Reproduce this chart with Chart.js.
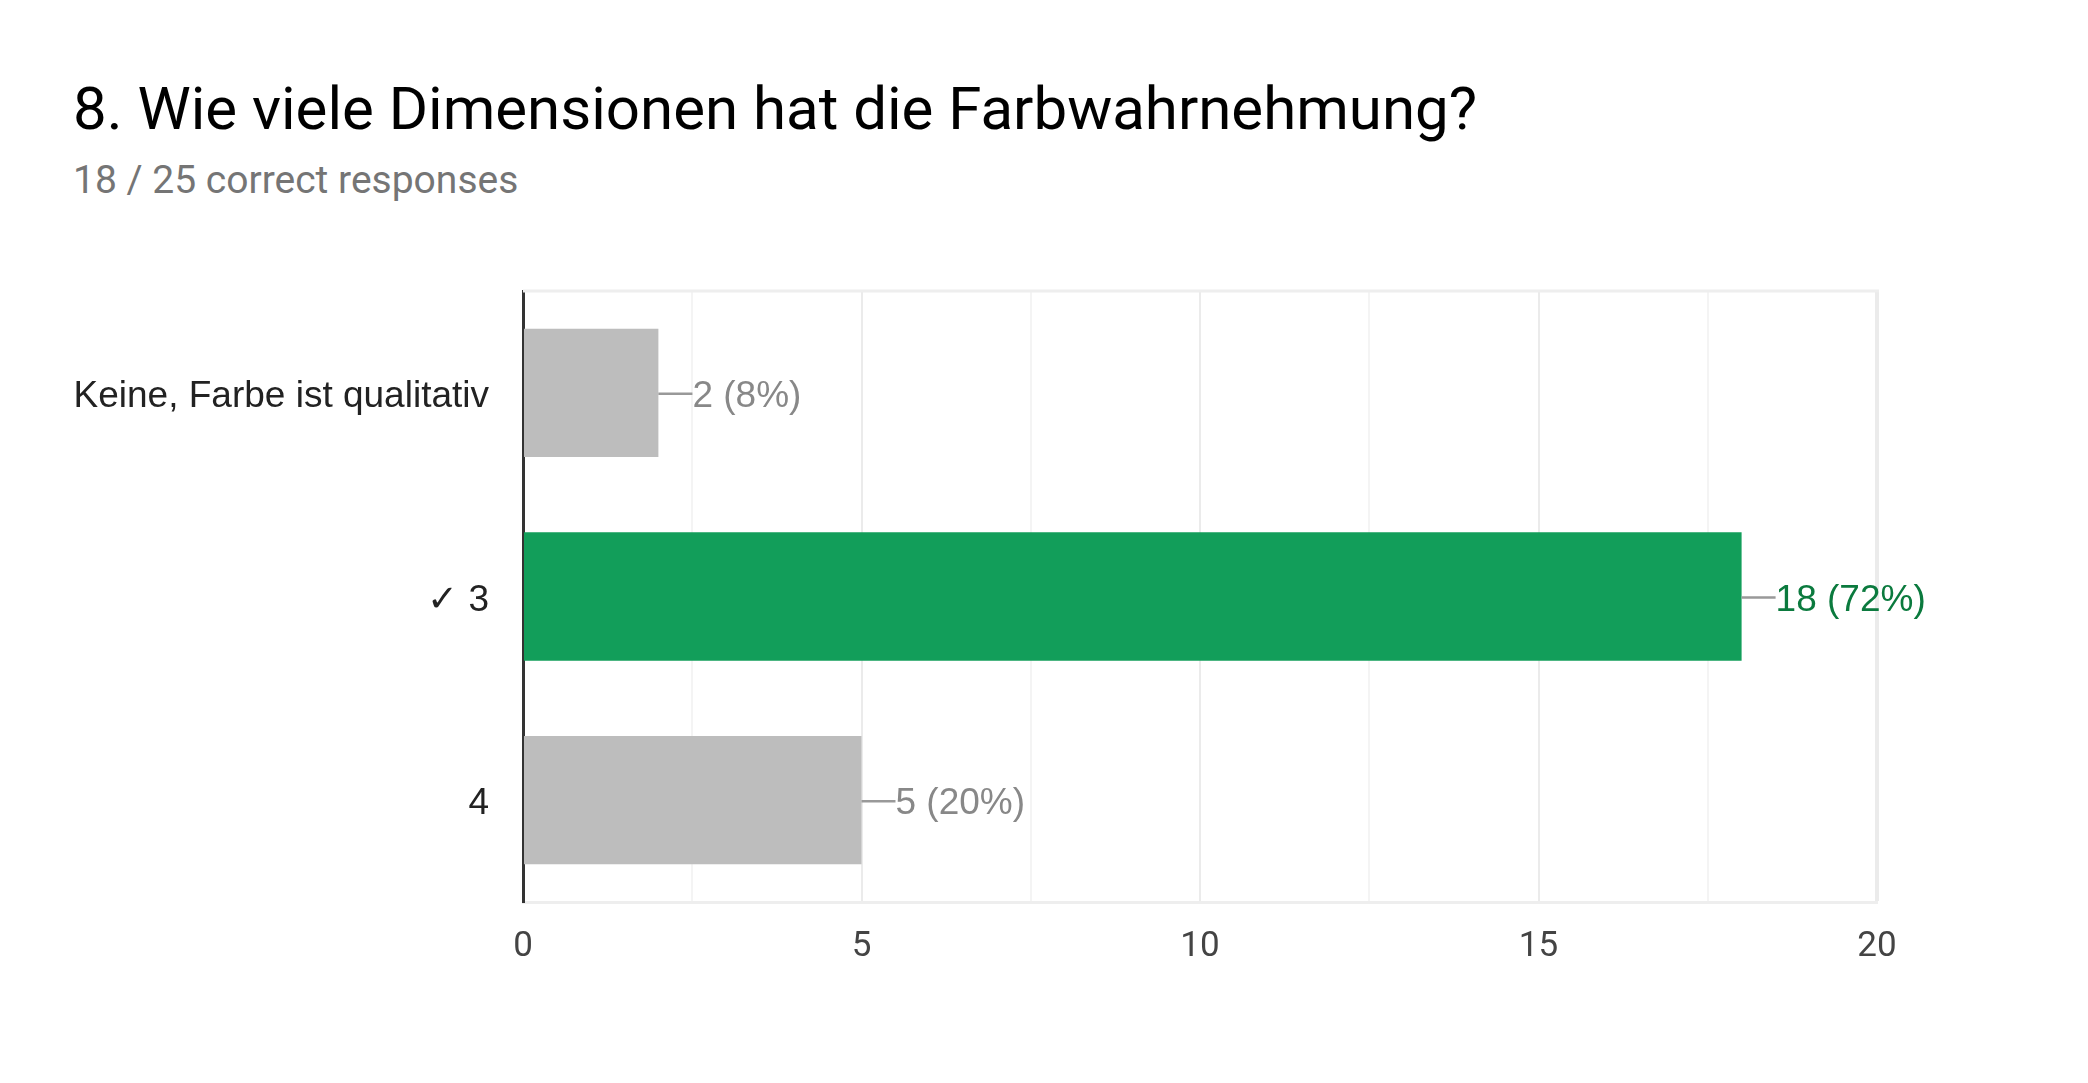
<!DOCTYPE html>
<html>
<head>
<meta charset="utf-8">
<script src="https://cdn.jsdelivr.net/npm/chart.js@4.4.1/dist/chart.umd.min.js"></script>
<style>
  html, body { margin: 0; padding: 0; background: #fff; }
  #wrap { position: relative; width: 2088px; height: 1083px; overflow: hidden; }
  #title { position: absolute; left: 73px; top: 79px; font-family: Roboto, sans-serif; font-size: 60px; color: #000; white-space: nowrap; line-height: 1; }
  #subtitle { position: absolute; left: 73px; top: 161px; font-family: Roboto, sans-serif; font-size: 39px; color: #757575; white-space: nowrap; line-height: 1; }
  #chartBox { position: absolute; left: 0; top: 0; width: 2088px; height: 1083px; }
</style>
</head>
<body>
<div id="wrap">
  <div id="title">8. Wie viele Dimensionen hat die Farbwahrnehmung?</div>
  <div id="subtitle">18 / 25 correct responses</div>
  <div id="chartBox"><canvas id="chart"></canvas></div>
</div>
<script>
// Daten
const categories = ['Keine, Farbe ist qualitativ', '✓ 3', '4'];
const counts = [2, 18, 5];
const percents = [8, 72, 20];
const correct = [false, true, false];
const xTicks = [0, 5, 10, 15, 20];

const barColors = correct.map(c => c ? '#129e5a' : '#bdbdbd');
const labelColors = correct.map(c => c ? '#0b7a3e' : '#888888');

// Rahmen oben zeichnen
const frame = {
    id: 'frame',
    beforeDatasetsDraw(chart) {
        const { ctx, chartArea } = chart;
        ctx.save();
        ctx.strokeStyle = '#eeeeee';
        ctx.lineWidth = 3;
        ctx.beginPath();
        ctx.moveTo(chartArea.left, chartArea.top);
        ctx.lineTo(chartArea.right + 2, chartArea.top);
        ctx.stroke();
        ctx.restore();
    }
};

// Werte rechts neben den Balken
const valueLabels = {
    id: 'valueLabels',
    afterDatasetsDraw(chart) {
        const { ctx } = chart;
        const meta = chart.getDatasetMeta(0);
        ctx.save();
        ctx.font = '37px "Liberation Sans", Arial, sans-serif';
        ctx.textBaseline = 'middle';
        ctx.textAlign = 'left';
        meta.data.forEach((bar, i) => {
            ctx.strokeStyle = '#999999';
            ctx.lineWidth = 2.5;
            ctx.beginPath();
            ctx.moveTo(bar.x, bar.y + 1);
            ctx.lineTo(bar.x + 34, bar.y + 1);
            ctx.stroke();
            ctx.fillStyle = labelColors[i];
            ctx.fillText(`${counts[i]} (${percents[i]}%)`, bar.x + 34, bar.y + 4);
        });
        ctx.restore();
    }
};

const ctx = document.getElementById('chart').getContext('2d');
new Chart(ctx, {
    type: 'bar',
    data: {
        labels: categories,
        datasets: [{
            data: counts,
            backgroundColor: barColors,
            borderWidth: 0,
            categoryPercentage: 1,
            barPercentage: 0.63
        }]
    },
    plugins: [frame, valueLabels],
    options: {
        indexAxis: 'y',
        responsive: true,
        maintainAspectRatio: false,
        animation: false,
        devicePixelRatio: 1,
        layout: { padding: { left: 0, top: 291, right: 211, bottom: 0 } },
        plugins: {
            legend: { display: false },
            tooltip: { enabled: false }
        },
        scales: {
            x: {
                min: 0,
                max: 20,
                afterBuildTicks(scale) {
                    const t = [];
                    for (let v = 0; v <= 20; v += 2.5) t.push({ value: v });
                    scale.ticks = t;
                },
                afterFit(scale) { scale.height = 181; },
                grid: {
                    drawTicks: false,
                    color: c => {
                        if (c.index === 0) return 'rgba(0,0,0,0)';
                        if (c.tick && c.tick.value === 20) return '#ebebeb';
                        return c.tick && c.tick.value % 5 === 0 ? '#ebebeb' : '#f4f4f4';
                    },
                    lineWidth: c => (c.tick && c.tick.value === 20) ? 4 : 2
                },
                border: { display: true, color: '#eeeeee', width: 3 },
                ticks: {
                    padding: 24,
                    color: '#444444',
                    font: { family: 'Roboto, sans-serif', size: 35 },
                    autoSkip: false,
                    maxRotation: 0,
                    callback: v => xTicks.includes(v) ? String(v) : ''
                }
            },
            y: {
                afterFit(scale) { scale.width = 523; },
                grid: { display: false, drawTicks: false },
                border: { display: true, color: '#333333', width: 3 },
                ticks: {
                    padding: 34,
                    labelOffset: 4,
                    color: '#222222',
                    font: { family: '"Liberation Sans", Arial, sans-serif', size: 37, lineHeight: 1.0 }
                }
            }
        }
    }
});
</script>
</body>
</html>
